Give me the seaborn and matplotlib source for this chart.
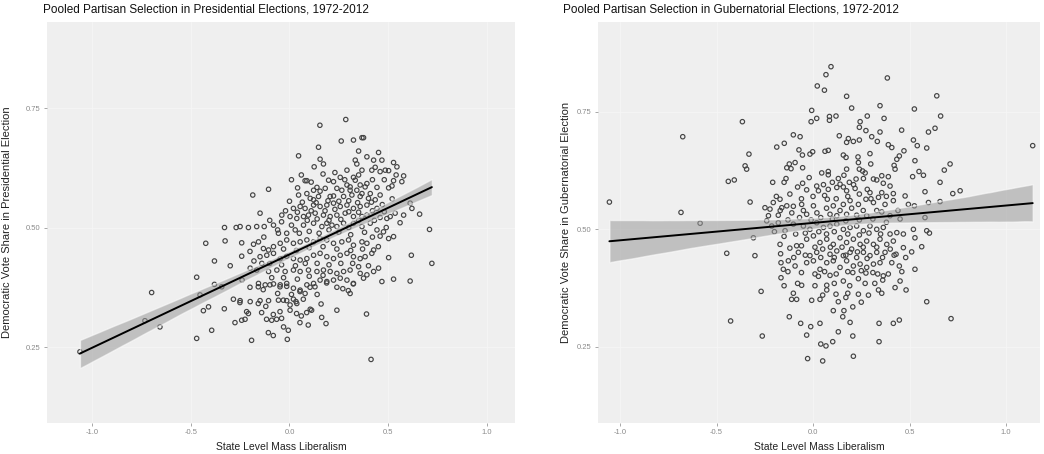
import matplotlib
matplotlib.use("Agg")
import matplotlib.pyplot as plt
import seaborn as sns
import pandas as pd

# ---------------- data ----------------
pres_lib = [0.285, 0.154, 0.262, 0.324, 0.367, 0.375, 0.147, 0.046, 0.350, 0.451,
            0.392, 0.155, 0.172, 0.125, 0.333, 0.341, 0.426, 0.468, 0.527, 0.544,
            0.434, 0.417, 0.485, 0.502, 0.459, 0.367, 0.291, 0.578, 0.527, 0.569,
            -0.106, -0.186, 0.041, 0.088, 0.079, 0.198, 0.223, 0.257, 0.324, 0.333,
            0.291, 0.307, 0.358, 0.383, 0.392, 0.443, 0.502, 0.519, 0.139, 0.122,
            0.155, 0.181, 0.240, 0.265, 0.307, 0.341, 0.367, 0.409, 0.459, 0.046,
            0.088, 0.105, 0.122, 0.147, 0.206, 0.223, 0.274, 0.316, 0.358, 0.400,
            0.434, 0.611, 0.620, 0.578, 0.659, 0.709, 0.721, 0.617, 0.502, 0.468,
            0.527, 0.611, 0.020, 0.054, 0.079, 0.122, 0.155, 0.189, 0.223, 0.257,
            0.291, 0.324, 0.358, 0.392, 0.443, -0.039, 0.003, 0.037, 0.071, 0.096,
            0.130, 0.172, 0.206, 0.240, 0.282, 0.324, 0.367, 0.392, 0.459, 0.493,
            0.510, 0.535, -0.149, -0.081, -0.056, -0.014, 0.029, 0.071, 0.122, 0.164,
            0.189, 0.215, 0.240, 0.274, 0.324, 0.367, 0.409, 0.443, 0.476, 0.502,
            0.527, 0.459, -0.128, -0.166, -0.208, -0.250, -0.270, -0.329, -0.326, -0.242,
            -0.242, -0.424, -0.182, -0.157, -0.132, -0.106, -0.081, -0.047, -0.014, 0.020,
            0.054, 0.088, 0.122, 0.155, 0.189, 0.223, 0.265, 0.299, 0.324, 0.367,
            0.392, 0.426, 0.417, -0.149, -0.115, -0.081, -0.047, -0.014, 0.020, 0.054,
            0.088, 0.122, 0.155, 0.189, 0.223, 0.257, 0.291, 0.324, 0.358, 0.383,
            0.451, 0.350, -0.199, -0.166, -0.140, -0.106, -0.064, -0.022, 0.020, 0.054,
            0.096, 0.139, 0.172, 0.206, 0.240, 0.274, 0.307, 0.358, 0.392, 0.426,
            -0.470, -0.380, -0.343, -0.698, -0.157, -0.123, -0.081, -0.047, -0.014, 0.020,
            0.054, 0.088, 0.122, 0.155, 0.189, 0.223, 0.257, 0.291, 0.324, 0.375,
            0.307, -0.284, -0.250, -0.199, -0.149, -0.106, -0.056, -0.014, 0.020, 0.037,
            0.105, 0.003, 0.240, -0.410, -0.453, -0.436, -0.732, -0.656, -1.061, -0.470,
            -0.394, -0.251, -0.158, -0.031, 0.033, 0.003, -0.217, -0.208, -0.141, -0.082,
            -0.048, 0.036, 0.087, 0.112, 0.163, 0.390, -0.276, -0.242, -0.225, -0.116,
            -0.090, -0.065, -0.040, 0.053, 0.095, 0.185, -0.107, -0.082, -0.006, -0.192,
            -0.011, 0.413, -0.158, -0.133, -0.099, -0.048, -0.014, 0.053, 0.079, 0.104,
            0.129, 0.188, 0.298, 0.323,
            0.010, 0.060, 0.110, 0.170, 0.230, 0.280, 0.350, 0.420, 0.480, 0.540,
            0.000, 0.065, 0.135, 0.195, 0.250, 0.300, 0.345, 0.415, 0.470, 0.520,
            -0.020, 0.040, 0.110, 0.180, 0.230, 0.300, 0.350, 0.420, 0.480, 0.560,
            -0.100, -0.040, 0.010, 0.090, 0.140, 0.200, 0.260, 0.300, 0.350, 0.430,
            -0.060, 0.050, 0.100, 0.150, 0.200, 0.250, 0.310, 0.380, 0.420, 0.490,
            -0.030, 0.035, 0.100, 0.170, 0.240, 0.310, 0.370, 0.450, -0.130, -0.200,
            -0.100, -0.040, 0.030, 0.080, 0.140, 0.200, 0.260, 0.320, 0.400, -0.180,
            -0.090, -0.030, 0.040, 0.100, 0.170, 0.240, 0.270, -0.060, 0.010, 0.140,
            -0.200, -0.240, -0.300, -0.380, -0.330, -0.120, 0.070, 0.160, 0.060, -0.030]
pres_vote = [0.726, 0.714, 0.681, 0.683, 0.688, 0.688, 0.668, 0.650, 0.660, 0.657,
             0.648, 0.643, 0.633, 0.627, 0.641, 0.633, 0.641, 0.641, 0.636, 0.627,
             0.626, 0.620, 0.620, 0.619, 0.617, 0.620, 0.620, 0.608, 0.598, 0.596,
             0.580, 0.568, 0.583, 0.598, 0.598, 0.599, 0.596, 0.605, 0.605, 0.599,
             0.589, 0.585, 0.589, 0.585, 0.592, 0.584, 0.583, 0.587, 0.584, 0.578,
             0.576, 0.582, 0.582, 0.578, 0.578, 0.578, 0.571, 0.571, 0.568, 0.568,
             0.571, 0.561, 0.558, 0.565, 0.565, 0.566, 0.565, 0.568, 0.565, 0.561,
             0.558, 0.551, 0.540, 0.526, 0.528, 0.496, 0.425, 0.442, 0.437, 0.387,
             0.392, 0.388, 0.540, 0.544, 0.540, 0.547, 0.544, 0.547, 0.551, 0.544,
             0.547, 0.540, 0.544, 0.547, 0.540, 0.526, 0.523, 0.519, 0.523, 0.526,
             0.530, 0.526, 0.523, 0.526, 0.530, 0.523, 0.523, 0.526, 0.521, 0.519,
             0.523, 0.530, 0.530, 0.505, 0.488, 0.488, 0.495, 0.505, 0.509, 0.502,
             0.509, 0.505, 0.502, 0.509, 0.509, 0.502, 0.509, 0.495, 0.491, 0.477,
             0.481, 0.482, 0.502, 0.502, 0.500, 0.502, 0.500, 0.500, 0.472, 0.468,
             0.440, 0.467, 0.465, 0.470, 0.456, 0.453, 0.460, 0.467, 0.474, 0.467,
             0.470, 0.474, 0.470, 0.477, 0.474, 0.467, 0.470, 0.474, 0.463, 0.470,
             0.467, 0.453, 0.446, 0.439, 0.442, 0.446, 0.435, 0.440, 0.435, 0.432,
             0.435, 0.442, 0.446, 0.439, 0.435, 0.442, 0.446, 0.439, 0.435, 0.439,
             0.415, 0.418, 0.415, 0.411, 0.425, 0.408, 0.411, 0.408, 0.411, 0.408,
             0.411, 0.408, 0.411, 0.408, 0.404, 0.408, 0.411, 0.404, 0.401, 0.408,
             0.396, 0.381, 0.376, 0.364, 0.383, 0.380, 0.382, 0.380, 0.383, 0.373,
             0.369, 0.380, 0.383, 0.390, 0.387, 0.390, 0.394, 0.390, 0.383, 0.394,
             0.362, 0.350, 0.347, 0.345, 0.347, 0.347, 0.348, 0.347, 0.350, 0.341,
             0.329, 0.327, 0.327, 0.334, 0.359, 0.326, 0.305, 0.292, 0.240, 0.268,
             0.285, 0.343, 0.341, 0.348, 0.345, 0.338, 0.324, 0.320, 0.322, 0.318,
             0.324, 0.320, 0.322, 0.327, 0.312, 0.319, 0.301, 0.306, 0.308, 0.308,
             0.306, 0.308, 0.310, 0.301, 0.296, 0.299, 0.280, 0.274, 0.285, 0.264,
             0.266, 0.224, 0.376, 0.370, 0.380, 0.376, 0.377, 0.366, 0.362, 0.375,
             0.376, 0.384, 0.368, 0.382,
             0.600, 0.610, 0.595, 0.612, 0.615, 0.600, 0.610, 0.600, 0.600, 0.610,
             0.555, 0.553, 0.552, 0.556, 0.555, 0.556, 0.552, 0.553, 0.548, 0.560,
             0.535, 0.532, 0.535, 0.535, 0.538, 0.533, 0.532, 0.535, 0.533, 0.510,
             0.515, 0.512, 0.505, 0.515, 0.518, 0.515, 0.517, 0.500, 0.515, 0.515,
             0.495, 0.488, 0.492, 0.488, 0.495, 0.490, 0.485, 0.490, 0.480, 0.500,
             0.455, 0.452, 0.458, 0.460, 0.455, 0.452, 0.455, 0.460, 0.480, 0.450,
             0.425, 0.422, 0.420, 0.425, 0.425, 0.422, 0.425, 0.425, 0.420, 0.430,
             0.395, 0.395, 0.392, 0.398, 0.400, 0.375, 0.372, 0.362, 0.360, 0.360,
             0.375, 0.390, 0.420, 0.430, 0.330, 0.335, 0.350, 0.340, 0.315, 0.292]

gov_lib = [0.093, 0.067, 0.385, 0.022, 0.059, 0.174, 0.641, 0.347, 0.200, -0.007,
           0.525, 0.019, -0.010, 0.085, 0.119, 0.085, 0.281, 0.368, 0.244, 0.661,
           -0.366, -0.675, 0.240, 0.274, 0.304, 0.347, 0.459, 0.598, 0.632, -0.102,
           -0.067, -0.149, -0.188, 0.136, 0.183, 0.209, 0.240, 0.174, 0.333, 0.390,
           0.408, 0.471, 0.520, 0.540, 0.589, 1.138, -0.073, -0.055, -0.016, -0.002,
           0.062, 0.079, 0.157, 0.171, 0.233, 0.295, 0.447, 0.434, -0.332, -0.352,
           -0.344, -0.123, -0.136, -0.114, -0.054, -0.093, 0.079, 0.079, 0.174, 0.235,
           0.240, 0.257, 0.299, 0.356, 0.420, 0.425, 0.528, 0.549, 0.572, 0.680,
           0.710, -0.439, -0.408, -0.209, -0.140, -0.054, 0.019, 0.054, 0.131, 0.140,
           0.157, 0.188, 0.223, 0.261, 0.313, 0.364, 0.399, 0.516, 0.658, 0.580,
           0.724, 0.762, -0.033, 0.028, 0.079, 0.123, 0.174, 0.218, 0.281, 0.295,
           0.356, 0.416, 0.477, -0.326, -0.249, -0.223, -0.206, -0.171, -0.162, -0.136,
           -0.102, -0.059, 0.002, 0.074, 0.105, 0.157, 0.192, 0.235, 0.274, 0.313,
           0.339, 0.373, 0.416, 0.494, 0.525, 0.598, 0.658, -1.055, -0.684, -0.231,
           -0.180, -0.033, 0.088, 0.123, 0.174, 0.226, 0.278, 0.356, 0.399, 0.451,
           0.580, -0.585, -0.447, -0.301, -0.309, -0.240, -0.214, -0.180, -0.145, -0.102,
           -0.050, -0.016, 0.019, 0.054, 0.088, 0.123, 0.157, 0.192, 0.226, 0.261,
           0.295, 0.330, 0.364, 0.399, 0.434, 0.468, 0.520, 0.589, 0.603, 0.528,
           -0.171, -0.085, -0.033, 0.002, 0.036, 0.071, 0.105, 0.140, 0.174, 0.209,
           0.244, 0.278, 0.313, 0.347, 0.382, 0.416, 0.468, 0.511, 0.563, -0.168,
           -0.076, -0.016, 0.019, 0.088, 0.123, 0.157, 0.192, 0.226, 0.261, 0.295,
           0.330, 0.373, 0.430, -0.166, -0.128, -0.154, -0.093, -0.033, 0.002, 0.036,
           0.071, 0.105, 0.140, 0.174, 0.209, 0.244, 0.278, 0.313, 0.347, 0.408,
           0.447, 0.528, -0.166, -0.059, 0.028, 0.088, 0.157, 0.206, 0.235, 0.274,
           0.335, 0.364, 0.361, 0.425, 0.451, 0.482, -0.269, -0.102, -0.111, -0.085,
           -0.007, 0.036, 0.071, 0.071, 0.119, 0.131, 0.180, 0.235, 0.287, 0.339,
           0.356, 0.589, 0.105, 0.160, 0.206, 0.154, -0.123, -0.427, -0.064, 0.036,
           0.192, 0.342, 0.416, 0.447, 0.715, -0.263, -0.033, 0.131, 0.206, -0.012,
           0.102, 0.040, 0.067, 0.342, -0.028, 0.050, 0.209,
           -0.150, -0.080, -0.020, 0.045, 0.100, 0.160, 0.210, 0.270, 0.330, 0.390,
           -0.190, -0.120, -0.060, 0.000, 0.060, 0.120, 0.180, 0.240, 0.300, 0.380,
           -0.170, -0.110, -0.050, 0.020, 0.070, 0.140, 0.200, 0.260, 0.330, 0.440,
           -0.200, -0.130, -0.070, -0.010, 0.040, 0.100, 0.170, 0.240, 0.310, 0.380,
           -0.150, -0.090, -0.040, 0.030, 0.070, 0.110, 0.180, 0.240, 0.290, 0.350,
           -0.120, -0.060, 0.010, 0.050, 0.090, 0.150, 0.200, 0.260, 0.330, 0.400,
           -0.100, -0.040, 0.040, 0.110, 0.170, 0.230, 0.280, 0.360, 0.420, 0.480,
           -0.130, -0.060, 0.010, 0.060, 0.120, 0.180, 0.250, 0.310, 0.390, 0.460,
           -0.080, 0.010, 0.110, 0.190, 0.270, 0.320, -0.150, 0.050, 0.170, 0.250]
gov_vote = [0.846, 0.829, 0.822, 0.805, 0.796, 0.783, 0.784, 0.763, 0.758, 0.753,
            0.756, 0.736, 0.729, 0.740, 0.741, 0.732, 0.741, 0.736, 0.729, 0.741,
            0.729, 0.697, 0.717, 0.710, 0.697, 0.707, 0.711, 0.707, 0.715, 0.701,
            0.697, 0.683, 0.675, 0.699, 0.693, 0.687, 0.690, 0.685, 0.687, 0.680,
            0.674, 0.667, 0.690, 0.678, 0.673, 0.678, 0.669, 0.658, 0.660, 0.665,
            0.666, 0.668, 0.658, 0.653, 0.654, 0.661, 0.656, 0.649, 0.660, 0.635,
            0.628, 0.639, 0.631, 0.629, 0.631, 0.642, 0.623, 0.616, 0.628, 0.642,
            0.628, 0.624, 0.639, 0.614, 0.636, 0.628, 0.646, 0.623, 0.615, 0.626,
            0.639, 0.602, 0.605, 0.600, 0.608, 0.598, 0.592, 0.595, 0.608, 0.596,
            0.590, 0.600, 0.607, 0.608, 0.607, 0.598, 0.592, 0.612, 0.600, 0.580,
            0.576, 0.582, 0.584, 0.582, 0.585, 0.589, 0.582, 0.587, 0.585, 0.578,
            0.578, 0.576, 0.571, 0.558, 0.546, 0.543, 0.557, 0.564, 0.546, 0.550,
            0.549, 0.553, 0.550, 0.564, 0.550, 0.553, 0.561, 0.553, 0.564, 0.557,
            0.568, 0.553, 0.561, 0.553, 0.550, 0.557, 0.559, 0.558, 0.536, 0.529,
            0.530, 0.532, 0.532, 0.529, 0.532, 0.530, 0.529, 0.537, 0.529, 0.522,
            0.525, 0.513, 0.449, 0.444, 0.482, 0.518, 0.507, 0.514, 0.497, 0.511,
            0.507, 0.500, 0.514, 0.504, 0.507, 0.511, 0.500, 0.504, 0.507, 0.497,
            0.507, 0.500, 0.504, 0.490, 0.493, 0.490, 0.500, 0.497, 0.492, 0.482,
            0.468, 0.465, 0.479, 0.486, 0.472, 0.479, 0.468, 0.482, 0.472, 0.479,
            0.468, 0.475, 0.468, 0.479, 0.468, 0.475, 0.461, 0.452, 0.463, 0.448,
            0.451, 0.444, 0.451, 0.447, 0.454, 0.444, 0.451, 0.440, 0.451, 0.444,
            0.451, 0.451, 0.447, 0.429, 0.433, 0.415, 0.422, 0.429, 0.433, 0.415,
            0.429, 0.433, 0.419, 0.433, 0.422, 0.426, 0.419, 0.426, 0.429, 0.429,
            0.422, 0.415, 0.397, 0.381, 0.400, 0.402, 0.390, 0.408, 0.395, 0.407,
            0.405, 0.401, 0.392, 0.376, 0.390, 0.371, 0.368, 0.364, 0.351, 0.351,
            0.349, 0.351, 0.381, 0.371, 0.362, 0.346, 0.364, 0.362, 0.360, 0.371,
            0.364, 0.346, 0.327, 0.327, 0.335, 0.314, 0.314, 0.305, 0.300, 0.300,
            0.302, 0.300, 0.300, 0.307, 0.310, 0.273, 0.275, 0.282, 0.273, 0.293,
            0.261, 0.256, 0.252, 0.261, 0.225, 0.220, 0.230,
            0.600, 0.590, 0.610, 0.620, 0.600, 0.615, 0.595, 0.620, 0.605, 0.612,
            0.570, 0.575, 0.565, 0.570, 0.572, 0.565, 0.570, 0.575, 0.565, 0.570,
            0.540, 0.535, 0.540, 0.535, 0.545, 0.540, 0.545, 0.540, 0.540, 0.540,
            0.495, 0.520, 0.525, 0.520, 0.525, 0.522, 0.518, 0.520, 0.522, 0.515,
            0.485, 0.490, 0.492, 0.495, 0.490, 0.495, 0.490, 0.488, 0.492, 0.490,
            0.460, 0.465, 0.462, 0.458, 0.462, 0.462, 0.458, 0.462, 0.462, 0.458,
            0.440, 0.445, 0.440, 0.440, 0.445, 0.452, 0.438, 0.440, 0.445, 0.440,
            0.410, 0.408, 0.405, 0.410, 0.405, 0.410, 0.412, 0.408, 0.405, 0.410,
            0.385, 0.380, 0.385, 0.380, 0.385, 0.385, 0.380, 0.360, 0.355, 0.345]

x_ticks = [-1.0, -0.5, 0.0, 0.5, 1.0]
x_tick_labels = ["-1.0", "-0.5", "0.0", "0.5", "1.0"]
y_ticks = [0.25, 0.50, 0.75]
y_tick_labels = ["0.25", "0.50", "0.75"]

titles = ["Pooled Partisan Selection in Presidential Elections, 1972-2012",
          "Pooled Partisan Selection in Gubernatorial Elections, 1972-2012"]
x_label = "State Level Mass Liberalism"
y_labels = ["Democratic Vote Share in Presidential Election",
            "Democratic Vote Share in Gubernatorial Election"]

pres = pd.DataFrame({"lib": pres_lib, "vote": pres_vote})
gov = pd.DataFrame({"lib": gov_lib, "vote": gov_vote})

# ---------------- style ----------------
sns.set_style("darkgrid", {"axes.facecolor": "#efefef", "grid.color": "#f6f6f6"})
plt.rcParams["font.family"] = ["Liberation Sans", "DejaVu Sans"]

fig = plt.figure(figsize=(10.44, 4.54), dpi=100)
fig.patch.set_facecolor("white")
ax1 = fig.add_axes([0.045, 0.0683, 0.4483, 0.8832])
ax2 = fig.add_axes([0.5728, 0.0683, 0.4234, 0.8832])

setup = [
    (ax1, pres, (-1.228, 1.142), (0.091, 0.930), 0, -0.075, 43),
    (ax2, gov, (-1.114, 1.176), (0.088, 0.941), 1, -0.060, 563),
]

for ax, df, xlim, ylim, i, ylab_x, title_px in setup:
    sns.regplot(data=df, x="lib", y="vote", ax=ax, ci=90, seed=7,
                scatter_kws=dict(s=10, facecolors="none", edgecolors="#444444",
                                 linewidths=0.85, alpha=1),
                line_kws=dict(color="black", lw=1.4))
    band = ax.collections[-1]
    band.set_facecolor("#9a9a9a")
    band.set_alpha(0.55)
    ax.set_xlim(*xlim)
    ax.set_ylim(*ylim)
    ax.set_xticks(x_ticks)
    ax.set_xticklabels(x_tick_labels)
    ax.set_yticks(y_ticks)
    ax.set_yticklabels(y_tick_labels)
    ax.tick_params(axis="both", which="both", bottom=True, left=True,
                   length=2.5, width=0.6, color="#9a9a9a", labelsize=5.5,
                   labelcolor="#8a8a8a", pad=2)
    ax.grid(True, color="#f6f6f6", lw=0.6)
    for s in ax.spines.values():
        s.set_visible(False)
    ax.set_xlabel(x_label, fontsize=7.5, color="#222222")
    ax.set_ylabel(y_labels[i], fontsize=8, color="#222222")
    ax.xaxis.set_label_coords(0.5, -0.048)
    ax.yaxis.set_label_coords(ylab_x, 0.5)
    fig.text(title_px / 1044, 1 - 10 / 454, titles[i], ha="left", va="center",
             fontsize=8.5, color="#111111")

fig.savefig("out.png", dpi=100, facecolor="white")
